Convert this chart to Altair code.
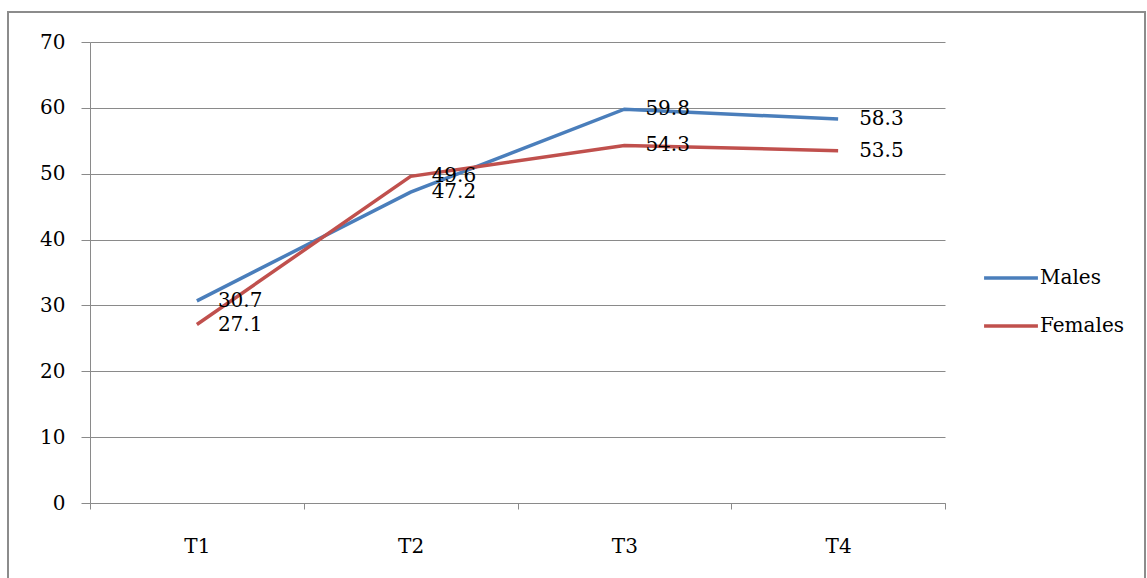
import altair as alt
import pandas as pd

# Survey waves and the two series plotted across them
waves = ["T1", "T2", "T3", "T4"]
males = [30.7, 47.2, 59.8, 58.3]
females = [27.1, 49.6, 54.3, 53.5]
series_names = ["Males", "Females"]
series_colors = ["#4a7ebb", "#c0504d"]

rows = []
for w, m, f in zip(waves, males, females):
    rows.append({"wave": w, "group": "Males", "value": m})
    rows.append({"wave": w, "group": "Females", "value": f})
df = pd.DataFrame(rows)

FONT = "DejaVu Serif"
FS = 20
GRID = "#8a8a8a"

x_enc = alt.X(
    "wave:N",
    sort=waves,
    scale=alt.Scale(type="band", paddingInner=0, paddingOuter=0),
    axis=alt.Axis(
        title=None,
        labelAngle=0,
        tickBand="extent",
        tickSize=6,
        tickColor=GRID,
        domainColor=GRID,
        labelPadding=27,
        labelFont=FONT,
        labelFontSize=FS,
        labelColor="#000000",
        grid=False,
    ),
)
y_enc = alt.Y(
    "value:Q",
    scale=alt.Scale(domain=[0, 70], nice=False),
    axis=alt.Axis(
        title=None,
        values=list(range(0, 71, 10)),
        tickSize=9,
        tickColor=GRID,
        domainColor=GRID,
        gridColor=GRID,
        gridWidth=1,
        gridOpacity=1,
        labelPadding=16,
        labelFont=FONT,
        labelFontSize=FS,
        labelColor="#000000",
    ),
)
color_enc = alt.Color(
    "group:N",
    sort=series_names,
    scale=alt.Scale(domain=series_names, range=series_colors),
    legend=alt.Legend(
        title=None,
        orient="none",
        legendX=892,
        legendY=207,
        symbolType="stroke",
        symbolSize=2900,
        symbolStrokeWidth=3.5,
        labelFont=FONT,
        labelFontSize=FS,
        labelColor="#000000",
        labelOffset=0,
        rowPadding=9,
    ),
)

base = alt.Chart(df)

lines = base.mark_line(strokeWidth=3.5).encode(x=x_enc, y=y_enc, color=color_enc)

labels = base.mark_text(
    align="left", baseline="middle", dx=21, font=FONT, fontSize=FS, color="#000000"
).encode(
    x=alt.X("wave:N", sort=waves),
    y=alt.Y("value:Q"),
    text=alt.Text("value:Q", format=".1f"),
)

# Outer frame drawn around the whole figure
frame = alt.Chart(pd.DataFrame({"k": [0]})).mark_rect(
    fill=None, stroke="#8c8c8c", strokeWidth=2, clip=False
).encode(
    x=alt.value(-82), x2=alt.value(1055), y=alt.value(-30), y2=alt.value(560)
)

chart = (
    alt.layer(frame, lines, labels)
    .properties(
        width=855,
        height=461,
        autosize=alt.AutoSizeParams(type="none"),
        padding={"left": 90, "top": 42, "right": 202, "bottom": 75},
        background="#ffffff",
    )
    .configure_view(stroke=None)
)

chart.save("out.html", embed_options={"renderer": "svg", "actions": False})
